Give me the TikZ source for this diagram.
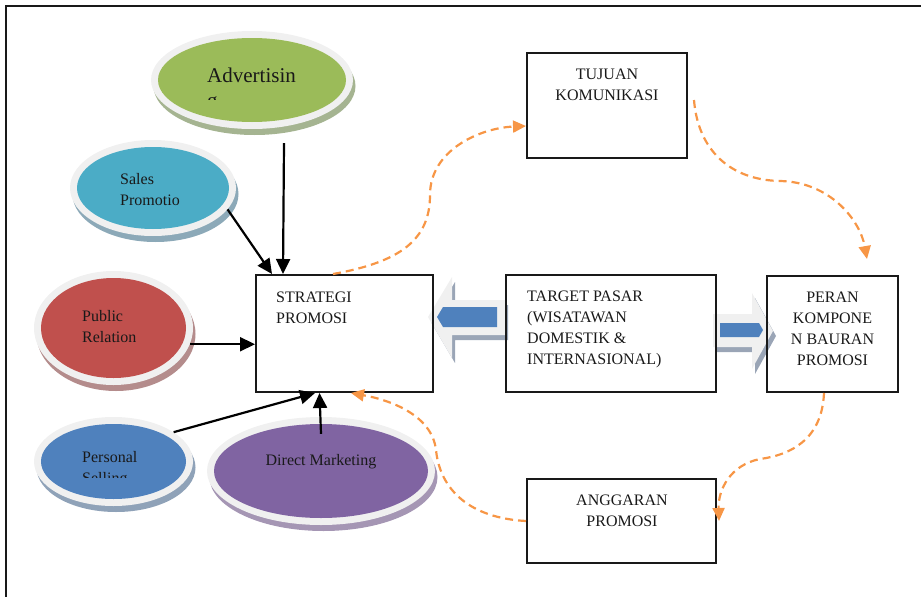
\documentclass[tikz,border=0pt]{standalone}
\usepackage{fontspec}
\setmainfont{Liberation Serif}
\usetikzlibrary{arrows.meta,shadows,shapes.geometric}
\definecolor{ring}{HTML}{F0F0F0}
\definecolor{cgreen}{HTML}{9BBB59}
\definecolor{cteal}{HTML}{4BACC6}
\definecolor{cred}{HTML}{C0504D}
\definecolor{cblue}{HTML}{4F81BD}
\definecolor{cpurple}{HTML}{8064A2}
\definecolor{sgreen}{HTML}{A5B491}
\definecolor{steal}{HTML}{8CA9B8}
\definecolor{sred}{HTML}{B48C8C}
\definecolor{sblue}{HTML}{8FA2B8}
\definecolor{spurple}{HTML}{A596B4}
\definecolor{orangec}{HTML}{F79646}
\definecolor{blight}{HTML}{F0F0F0}
\definecolor{bshadow}{HTML}{9AA5B6}
\newcommand{\lblock}[1]{\begin{tabular}[t]{@{}l@{}}#1\end{tabular}}
\newcommand{\cblock}[1]{\begin{tabular}[t]{@{}c@{}}#1\end{tabular}}
\begin{document}
\begin{tikzpicture}[x=1pt,y=-1pt,
  tool/.style n args={4}{ellipse, inner sep=0pt, minimum width=#1, minimum height=#2,
    fill=ring, drop shadow={shadow xshift=2.5pt, shadow yshift=-6pt, fill=#4, opacity=1},
    path picture={\fill[#3] (path picture bounding box.center) ellipse [x radius={#1/2-7}, y radius={#2/2-7}];}},
  box/.style={draw=black!90, line width=2pt, rectangle, inner sep=0pt},
  txt/.style={inner sep=0pt, text=black!90, font=\fontsize{16}{21}\selectfont},
  blk/.style={line width=2.2pt, -{Triangle[length=15pt,width=14pt]}},
  dsh/.style={draw=orangec, line width=2.2pt, dash pattern=on 8pt off 5pt,
    -{Triangle[length=13pt,width=12pt]}, fill=none},
]
\useasboundingbox (0,0) rectangle (921,597);
% frame
\draw[line width=2.2pt, black!90] (6,597) -- (6,6) -- (921,6);

% block arrows
\fill[bshadow] (431,322) -- (455,282) -- (455,305) -- (508,305) -- (508,340) -- (455,340) -- (455,363) -- cycle;
\fill[blight] (428,317) -- (452,277) -- (452,300) -- (505,300) -- (505,335) -- (452,335) -- (452,358) -- cycle;
\fill[cblue] (437,317) -- (443,307) -- (497,307) -- (497,327) -- (443,327) -- cycle;
\fill[bshadow] (716,319) -- (755,319) -- (755,298) -- (776,336) -- (755,374) -- (755,352) -- (716,352) -- cycle;
\fill[blight] (713,314) -- (752,314) -- (752,293) -- (773,331) -- (752,369) -- (752,347) -- (713,347) -- cycle;
\fill[cblue] (720,323) -- (759,323) -- (763,330) -- (759,337) -- (720,337) -- cycle;

% boxes
\node[box, minimum width=177pt, minimum height=117pt] (strat) at (344.5,333.5) {};
\node[box, minimum width=210pt, minimum height=117pt] (target) at (611,333.5) {};
\node[box, minimum width=131pt, minimum height=116pt] (peran) at (832.5,334) {};
\node[box, minimum width=160pt, minimum height=105pt] (tujuan) at (607,105.5) {};
\node[box, minimum width=189pt, minimum height=84pt] (anggaran) at (621.5,521) {};

\node[txt, anchor=base west] (stratt) at (276,302) {\lblock{STRATEGI\\PROMOSI}};
\node[txt, anchor=base west] (targett) at (527,301) {\lblock{TARGET PASAR\\(WISATAWAN\\DOMESTIK \&\\INTERNASIONAL)}};
\node[txt, anchor=base] (perant) at (832.5,302) {\cblock{PERAN\\KOMPONE\\N BAURAN\\PROMOSI}};
\node[txt, anchor=base] (tujuant) at (607,79) {\cblock{TUJUAN\\KOMUNIKASI}};
\node[txt, anchor=base] (anggarant) at (622,505) {\cblock{ANGGARAN\\PROMOSI}};

% ellipses
\node[tool={202}{98}{cgreen}{sgreen}] (adv) at (252,80) {};
\node[tool={166}{96}{cteal}{steal}] (sales) at (153,188) {};
\node[tool={159}{114}{cred}{sred}] (public) at (113.5,328) {};
\node[tool={159}{89}{cblue}{sblue}] (personal) at (113.5,461.5) {};
\node[tool={228}{108}{cpurple}{spurple}] (direct) at (321,471) {};

\begin{scope}
\clip (140,20) rectangle (370,99.5);
\node[txt, anchor=base west, font=\fontsize{21}{25}\selectfont] (advt) at (207,82) {\lblock{Advertisin\\g}};
\end{scope}
\node[txt, anchor=base west] (salest) at (120,184) {\lblock{Sales\\Promotio}};
\node[txt, anchor=base west] (publict) at (82,321) {\lblock{Public\\Relation}};
\begin{scope}
\clip (30,400) rectangle (200,477);
\node[txt, anchor=base west] (personalt) at (82,462) {\lblock{Personal\\Selling}};
\end{scope}
\node[txt, anchor=base] (directt) at (321,465) {Direct Marketing};

% black connectors
\draw[blk] ([shift={(32pt,-14pt)}]adv.south) -- ([xshift=28pt]strat.north west);
\draw[blk] (sales.-16) -- ([xshift=17pt]strat.north west);
\draw[blk] (public.-12) -- (public.-12 -| strat.west);
\draw[blk] (personal.26) -- ([xshift=-29.5pt]strat.south);
\draw[blk] ([yshift=-17pt]direct.north) -- ([xshift=-25pt]strat.south);

% orange dashed connectors
\draw[dsh] ([xshift=-11.5pt]strat.north) .. controls (400,262) and (430,240) .. (430,195)
  .. controls (430,150) and (480,128) .. ([yshift=-20.5pt]tujuan.west);
\draw[dsh] ([shift={(6pt,5.5pt)}]tujuan.east) .. controls (698,150) and (730,180) .. (780,181)
  .. controls (830,182) and (860,220) .. ([shift={(34.5pt,16pt)}]peran.north);
\draw[dsh] ([xshift=-8.5pt]peran.south) .. controls (822,440) and (790,455) .. (760,459)
  .. controls (730,465) and (718,490) .. ([xshift=2pt]anggaran.east);
\draw[dsh] (anggaran.west) .. controls (470,518) and (440,490) .. (436,450)
  .. controls (432,415) and (390,400) .. ([xshift=6.5pt]strat.south);
\end{tikzpicture}
\end{document}
